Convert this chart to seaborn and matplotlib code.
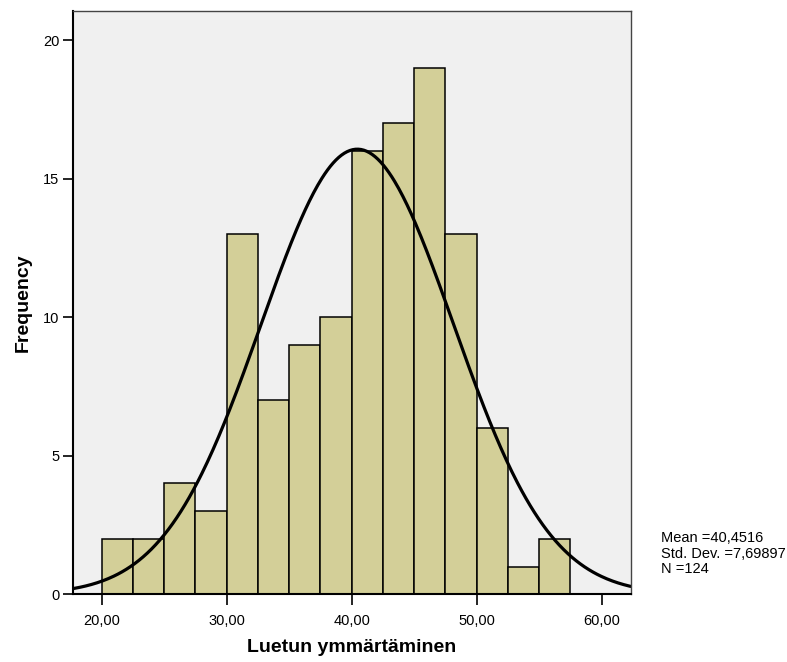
import numpy as np
import pandas as pd
import seaborn as sns
import matplotlib.pyplot as plt

# histogram bins (left edges) and counts
bin_edges = [20.0, 22.5, 25.0, 27.5, 30.0, 32.5, 35.0, 37.5, 40.0, 42.5,
             45.0, 47.5, 50.0, 52.5, 55.0, 57.5]
counts = [2, 2, 4, 3, 13, 7, 9, 10, 16, 17, 19, 13, 6, 1, 2]

mean_val = 40.4516
std_val = 7.69897
n_obs = 124

x_ticks = [20, 30, 40, 50, 60]
x_tick_labels = ["20,00", "30,00", "40,00", "50,00", "60,00"]
y_ticks = [0, 5, 10, 15, 20]

sns.set_style("white")
plt.rcParams["font.family"] = ["Liberation Sans", "DejaVu Sans"]
plt.rcParams["text.color"] = "black"
plt.rcParams["axes.labelcolor"] = "black"

centers = [(a + b) / 2 for a, b in zip(bin_edges[:-1], bin_edges[1:])]
df = pd.DataFrame({"value": centers, "count": counts})

fig = plt.figure(figsize=(7.87, 6.62), dpi=100)
ax = fig.add_axes([0.0931, 0.1023, 0.7083, 0.8811])
ax.set_facecolor("#F0F0F0")

sns.histplot(data=df, x="value", weights="count", bins=bin_edges,
             color="#D3CF98", edgecolor="black", linewidth=1.1, alpha=1, ax=ax)

# normal curve from the reported mean / sd
xmin, xmax = 17.73, 62.32
bw = bin_edges[1] - bin_edges[0]
xs = np.linspace(xmin, xmax, 400)
ys = n_obs * bw * np.exp(-0.5 * ((xs - mean_val) / std_val) ** 2) / (std_val * np.sqrt(2 * np.pi))
sns.lineplot(x=xs, y=ys, color="black", linewidth=2.3, ax=ax)

ax.set_xlim(xmin, xmax)
ax.set_ylim(0, 21.05)
ax.set_xticks(x_ticks)
ax.set_xticklabels(x_tick_labels)
ax.set_yticks(y_ticks)
ax.tick_params(axis="both", direction="out", length=8, width=1.2,
               labelsize=10.5, colors="black", labelcolor="black",
               left=True, bottom=True, pad=6)
ax.tick_params(axis="y", length=7, pad=3)

for side in ["left", "bottom"]:
    ax.spines[side].set_color("black")
    ax.spines[side].set_linewidth(1.5)
for side in ["top", "right"]:
    ax.spines[side].set_color("#444444")
    ax.spines[side].set_linewidth(1.0)

ax.set_xlabel("Luetun ymmärtäminen", fontsize=14, fontweight="bold",
              labelpad=8, color="black")
ax.set_ylabel("Frequency", fontsize=14, fontweight="bold",
              labelpad=8, color="black")

stats_text = "Mean =40,4516\nStd. Dev. =7,69897\nN =124"
fig.text(661 / 787, 1 - 531 / 662, stats_text,
         fontsize=10.5, va="top", ha="left", linespacing=1.15, color="black")

fig.savefig("out.png", dpi=100)
